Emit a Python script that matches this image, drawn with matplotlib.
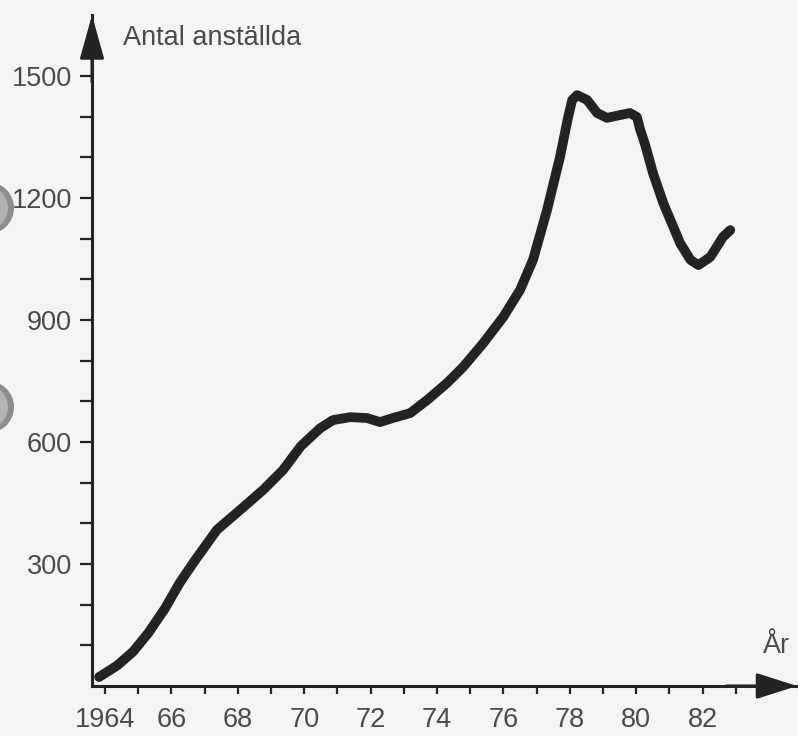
import matplotlib
matplotlib.use("Agg")
import matplotlib.pyplot as plt
from matplotlib.patches import Circle
from matplotlib.ticker import FixedLocator

plt.rcParams['font.family'] = ['Liberation Sans', 'DejaVu Sans']

# Data
years = [1963.82, 1964.36, 1964.84, 1965.30, 1965.80, 1966.26, 1966.72, 1967.37,
         1968.07, 1968.76, 1969.36, 1969.90, 1970.48, 1970.87, 1971.38, 1971.89,
         1972.28, 1972.67, 1973.19, 1973.70, 1974.30, 1974.78, 1975.39, 1975.99,
         1976.50, 1976.89, 1977.31, 1977.70, 1977.95, 1978.07, 1978.22, 1978.52,
         1978.82, 1979.12, 1979.51, 1979.81, 1980.02, 1980.11, 1980.27, 1980.50,
         1980.81, 1981.32, 1981.63, 1981.87, 1982.23, 1982.61, 1982.83]
employees = [22, 50, 84, 130, 190, 255, 310, 384,
             433, 482, 531, 590, 634, 654, 661, 659,
             649, 659, 671, 703, 745, 784, 843, 907,
             974, 1048, 1170, 1300, 1400, 1441, 1453, 1441,
             1409, 1397, 1404, 1409, 1399, 1370, 1330, 1262,
             1188, 1089, 1048, 1035, 1055, 1104, 1121]
x_ticks = list(range(1964, 1984))
x_labels = ['1964', '', '66', '', '68', '', '70', '', '72', '', '74', '', '76', '',
            '78', '', '80', '', '82', '']
y_major = [300, 600, 900, 1200, 1500]
y_minor = [100, 200, 400, 500, 700, 800, 1000, 1100, 1300, 1400]
y_label = 'Antal anställda'
x_label = 'År'

W, H = 798, 736
fig = plt.figure(figsize=(W / 100, H / 100), dpi=100)
bg = '#f4f4f3'
fig.patch.set_facecolor(bg)

# axes placed by pixel bounds: x 92..797, y 15..686
left, right, top, bottom = 92, 797, 15, 686
ax = fig.add_axes([left / W, 1 - bottom / H, (right - left) / W, (bottom - top) / H])
ax.set_facecolor(bg)
ax.set_xlim(1963.608, 1984.84)
ax.set_ylim(0, 1650)

ink = '#232323'
txt = '#4a4a4a'

ax.plot(years, employees, color=ink, lw=7.0, solid_capstyle='round',
        solid_joinstyle='round', zorder=3)

for s in ['top', 'right']:
    ax.spines[s].set_visible(False)
for s in ['left', 'bottom']:
    ax.spines[s].set_color(ink)
    ax.spines[s].set_linewidth(2.2)

ax.set_xticks(x_ticks)
ax.set_xticklabels(x_labels)
ax.set_yticks(y_major)
ax.set_yticklabels([str(v) for v in y_major])
ax.yaxis.set_minor_locator(FixedLocator(y_minor))
ax.tick_params(axis='x', direction='out', length=6, width=1.6, color=ink,
               labelsize=19.5, labelcolor=txt, pad=9)
ax.tick_params(axis='y', which='both', direction='out', length=8.5, width=1.6,
               color=ink, labelsize=19.5, labelcolor=txt, pad=6)

# arrow heads
ax.annotate('', xy=(1.0, 0), xytext=(0.9, 0), xycoords='axes fraction',
            arrowprops=dict(arrowstyle='-|>,head_length=25,head_width=8',
                            mutation_scale=1, color=ink, lw=2.2,
                            shrinkA=0, shrinkB=0), annotation_clip=False)
ax.annotate('', xy=(0, 1.0), xytext=(0, 0.9), xycoords='axes fraction',
            arrowprops=dict(arrowstyle='-|>,head_length=27,head_width=7.5',
                            mutation_scale=1, color=ink, lw=2.2,
                            shrinkA=0, shrinkB=0), annotation_clip=False)

fig.text(123 / W, 1 - 38 / H, y_label, fontsize=19.5, color=txt,
         ha='left', va='center')
fig.text(777 / W, 1 - 646 / H, x_label, fontsize=19.5, color=txt,
         ha='center', va='center')

# binder holes from the scanned page
for cy in [208, 407]:
    for r, c, dx in [(26, '#8e8e8c', 0), (22, '#b4b4b2', -2), (15, '#d0d0ce', -4)]:
        fig.patches.append(Circle((-12 + dx, H - cy), r, transform=None,
                                  facecolor=c, edgecolor='none', zorder=0))

fig.savefig('out.png', dpi=100, facecolor=bg)
